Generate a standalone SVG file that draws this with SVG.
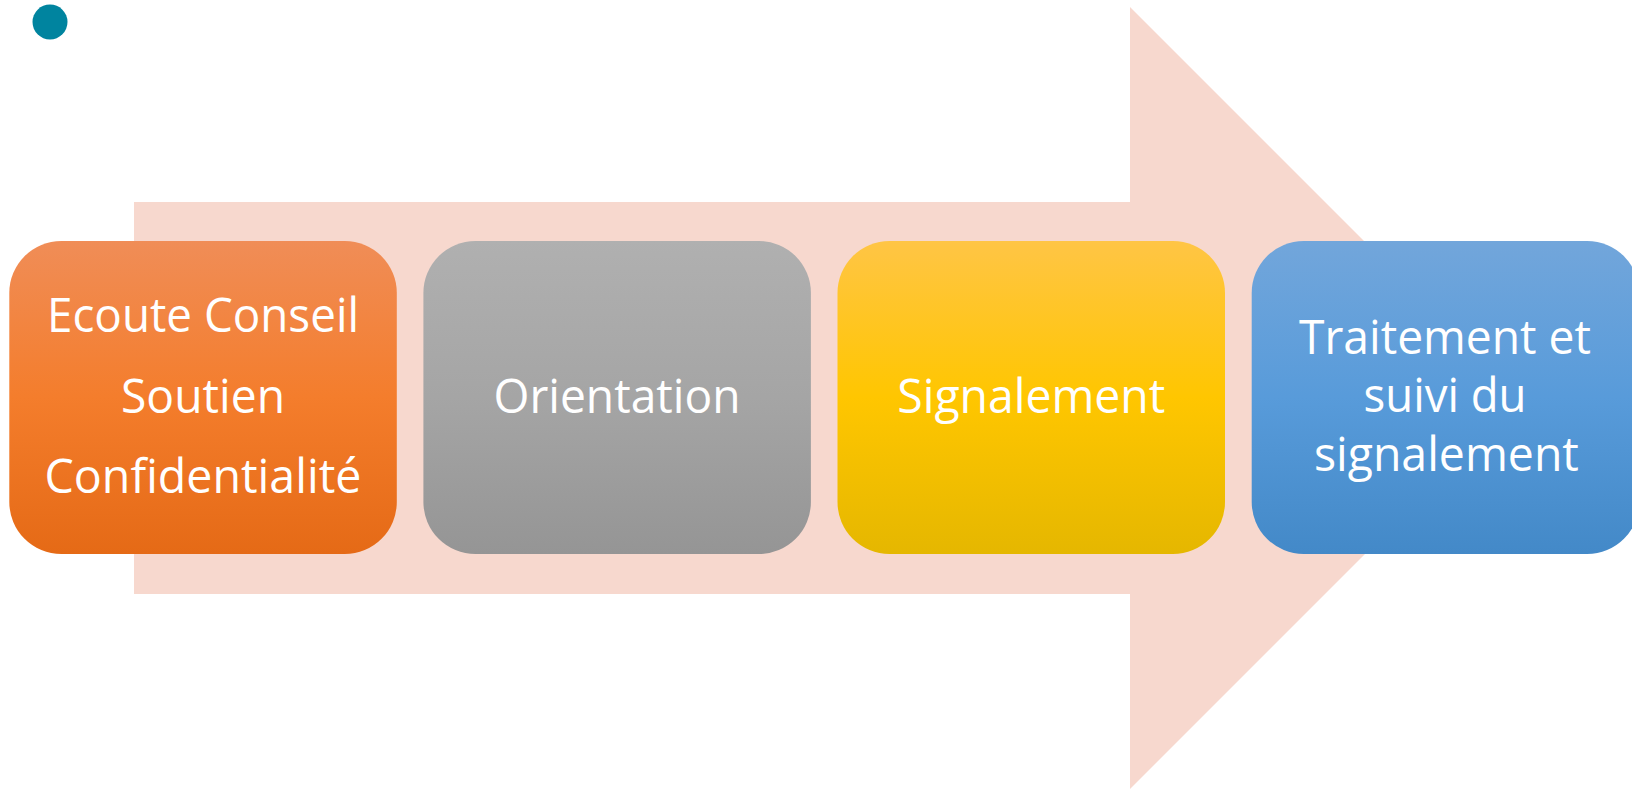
<svg xmlns="http://www.w3.org/2000/svg" width="1632" height="789" viewBox="0 0 1632 789">
<defs>
<linearGradient id="gOrange" x1="0" y1="0" x2="0" y2="1">
<stop offset="0" stop-color="#F08D57"/>
<stop offset="0.5" stop-color="#F47D2C"/>
<stop offset="1" stop-color="#E56A16"/>
</linearGradient>
<linearGradient id="gGray" x1="0" y1="0" x2="0" y2="1">
<stop offset="0" stop-color="#B0B0B0"/>
<stop offset="0.5" stop-color="#A5A5A5"/>
<stop offset="1" stop-color="#959595"/>
</linearGradient>
<linearGradient id="gYellow" x1="0" y1="0" x2="0" y2="1">
<stop offset="0" stop-color="#FFC545"/>
<stop offset="0.5" stop-color="#FFC600"/>
<stop offset="1" stop-color="#E5B700"/>
</linearGradient>
<linearGradient id="gBlue" x1="0" y1="0" x2="0" y2="1">
<stop offset="0" stop-color="#72A6DB"/>
<stop offset="0.5" stop-color="#589BDA"/>
<stop offset="1" stop-color="#4389C8"/>
</linearGradient>
</defs>
<style>
.box{stroke:none}
.lbl{font-family:"Open Sans","Noto Sans",sans-serif;font-size:47px;fill:#FFFFFF;text-anchor:middle}
</style>
<rect width="1632" height="789" fill="#FFFFFF"/>
<circle cx="50" cy="22" r="17.5" fill="#00849F"/>
<g id="arrow">
<polygon points="134,202 1130,202 1130,7 1521,398 1130,789 1130,594 134,594" fill="#F7D8CE"/>
</g>
<g id="connectors"></g>
<g id="node1">
<rect class="box" x="9.3" y="241" width="387.5" height="313" rx="52" fill="url(#gOrange)"/>
<text class="lbl" x="203" y="331.7" textLength="312" lengthAdjust="spacingAndGlyphs">Ecoute Conseil</text>
<text class="lbl" x="203" y="412.7" textLength="164" lengthAdjust="spacingAndGlyphs">Soutien</text>
<text class="lbl" x="203" y="493.3" textLength="317" lengthAdjust="spacingAndGlyphs">Confidentialité</text>
</g>
<g id="node2">
<rect class="box" x="423.4" y="241" width="387.5" height="313" rx="52" fill="url(#gGray)"/>
<text class="lbl" x="617" y="412.7" textLength="247" lengthAdjust="spacingAndGlyphs">Orientation</text>
</g>
<g id="node3">
<rect class="box" x="837.5" y="241" width="387.5" height="313" rx="52" fill="url(#gYellow)"/>
<text class="lbl" x="1031.3" y="412.7" textLength="268" lengthAdjust="spacingAndGlyphs">Signalement</text>
</g>
<g id="node4">
<rect class="box" x="1251.7" y="241" width="387.5" height="313" rx="52" fill="url(#gBlue)"/>
<text class="lbl" x="1445" y="354" textLength="292" lengthAdjust="spacingAndGlyphs">Traitement et</text>
<text class="lbl" x="1445" y="412.3" textLength="163" lengthAdjust="spacingAndGlyphs">suivi du</text>
<text class="lbl" x="1446.4" y="470.7" textLength="265" lengthAdjust="spacingAndGlyphs">signalement</text>
</g>
</svg>
